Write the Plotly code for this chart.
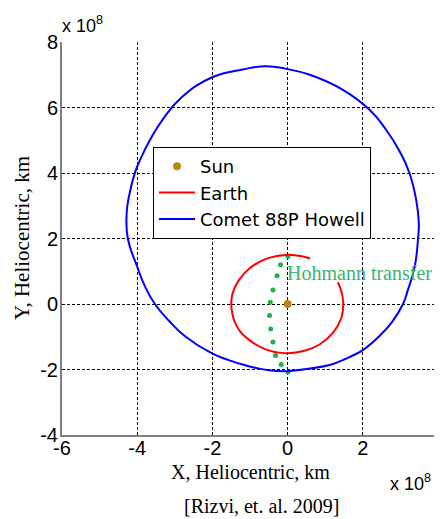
import plotly.graph_objects as go

# ---- data (units of 1e8 km) ----
comet_x = [0.00, 0.55, 1.12, 1.72, 2.00, 2.45, 2.77, 3.07, 3.20, 3.38, 3.47, 3.49, 3.42, 3.24, 3.00,
           2.62, 2.18, 1.47, 0.59, -0.04, -0.57, -1.20, -1.99, -2.81, -3.30, -3.64, -3.92, -4.06,
           -4.22, -4.28, -4.25, -4.00, -3.79, -3.53, -3.15, -2.71, -2.01, -1.55, -1.10, -0.50,
           0.00, 0.55, 1.12]
comet_y = [-2.05, -1.98, -1.86, -1.58, -1.41, -0.97, -0.56, 0.00, 0.43, 1.14, 2.00, 2.47, 3.18, 4.00, 4.62,
           5.32, 5.93, 6.54, 7.00, 7.18, 7.26, 7.16, 6.93, 6.32, 5.67, 5.05, 4.41, 4.01,
           3.28, 2.77, 2.00, 1.14, 0.53, 0.00, -0.52, -1.00, -1.51, -1.72, -1.88, -2.02,
           -2.05, -1.98, -1.86]

earth_x = [0.60, 0.30, -0.04, -0.52, -0.98, -1.30, -1.47, -1.49, -1.36, -1.04, -0.55, -0.04,
           0.45, 0.86, 1.22, 1.43, 1.48, 1.40, 1.33]
earth_y = [1.39, 1.47, 1.50, 1.40, 1.12, 0.72, 0.30, -0.15, -0.66, -1.08, -1.40, -1.50,
           -1.43, -1.23, -0.86, -0.42, 0.05, 0.50, 0.66]

sun_x = [0.0]
sun_y = [0.0]

hohmann_x = [0.01, -0.19, -0.28, -0.39, -0.46, -0.48, -0.45, -0.39, -0.32, -0.17, 0.01]
hohmann_y = [1.45, 1.20, 0.86, 0.43, 0.05, -0.35, -0.76, -1.16, -1.57, -1.85, -2.08]

x_ticks = [-6, -4, -2, 0, 2, 4]
y_ticks = [-4, -2, 0, 2, 4, 6, 8]
x_tick_labels = [str(v) for v in x_ticks]
y_tick_labels = [str(v) for v in y_ticks]

# ---- figure (page body adds an 8px offset; figure size compensates) ----
OFF = 8
W, H = 442 - OFF, 519 - OFF
L, R, T, B = 62 - OFF, 4, 42 - OFF, 84
pw, ph = W - L - R, H - T - B


def px(x):
    """page pixel x -> paper coordinate"""
    return (x - OFF - L) / pw


def py(y):
    """page pixel y -> paper coordinate"""
    return (H - B - (y - OFF)) / ph


fig = go.Figure()

fig.add_trace(go.Scatter(x=hohmann_x, y=hohmann_y, mode="markers", showlegend=False,
                         marker=dict(color="#22b04c", size=5), hoverinfo="skip"))
fig.add_trace(go.Scatter(x=sun_x, y=sun_y, mode="markers", name="Sun",
                         marker=dict(color="#b8860b", size=8, symbol="circle")))
fig.add_trace(go.Scatter(x=earth_x, y=earth_y, mode="lines", name="Earth",
                         line=dict(color="#ff0000", width=2, shape="spline", smoothing=1.3)))
fig.add_trace(go.Scatter(x=comet_x, y=comet_y, mode="lines", name="Comet 88P Howell",
                         line=dict(color="#0000ff", width=2, shape="spline", smoothing=1.3)))

axis_common = dict(showgrid=True, gridcolor="black", gridwidth=1, griddash="3px,2px",
                   zeroline=False, showline=True, linecolor="#7f7f7f", linewidth=2,
                   mirror=False, ticks="", tickmode="array",
                   tickfont=dict(family="Liberation Sans, Arial", size=20, color="black"))

fig.update_xaxes(range=[-6, 4], tickvals=x_ticks, ticktext=x_tick_labels,
                 ticklabelstandoff=-6, **axis_common)
fig.update_yaxes(range=[-4, 8], tickvals=y_ticks, ticktext=y_tick_labels,
                 ticklabelstandoff=-2, **axis_common)

serif = "Liberation Serif, Times New Roman, serif"
sans = "Liberation Sans, Arial, sans-serif"

annotations = [
    dict(text="X, Heliocentric, km", x=px(250), y=py(472), xref="paper", yref="paper",
         showarrow=False, xanchor="center", yanchor="middle",
         font=dict(family=serif, size=20, color="black")),
    dict(text="Y, Heliocentric, km", x=px(22), y=py(238), xref="paper", yref="paper",
         showarrow=False, xanchor="center", yanchor="middle", textangle=-90,
         font=dict(family=serif, size=21, color="black")),
    dict(text="[Rizvi, et. al. 2009]", x=px(262), y=py(506), xref="paper", yref="paper",
         showarrow=False, xanchor="center", yanchor="middle",
         font=dict(family=serif, size=20, color="black")),
    dict(text="x 10<sup>8</sup>", x=px(60), y=py(25), xref="paper", yref="paper",
         showarrow=False, xanchor="left", yanchor="middle",
         font=dict(family=sans, size=18, color="black")),
    dict(text="x 10<sup>8</sup>", x=px(388), y=py(482), xref="paper", yref="paper",
         showarrow=False, xanchor="left", yanchor="middle",
         font=dict(family=sans, size=18, color="black")),
    dict(text="Hohmann transfer", x=-0.08, y=0.94, xref="x", yref="y",
         showarrow=False, xanchor="left", yanchor="middle",
         font=dict(family=serif, size=20, color="#3cb371")),
]

fig.update_layout(
    width=W, height=H,
    margin=dict(l=L, r=R, t=T, b=B, autoexpand=False),
    paper_bgcolor="white", plot_bgcolor="white",
    showlegend=True,
    legend=dict(x=px(153), y=py(147), xanchor="left", yanchor="top",
                bgcolor="white", bordercolor="black", borderwidth=1,
                font=dict(family="DejaVu Sans, Liberation Sans, sans-serif", size=18, color="black"),
                itemwidth=36, tracegroupgap=0, entrywidth=185, entrywidthmode="pixels"),
    annotations=annotations,
)

fig.write_html("out.html")
